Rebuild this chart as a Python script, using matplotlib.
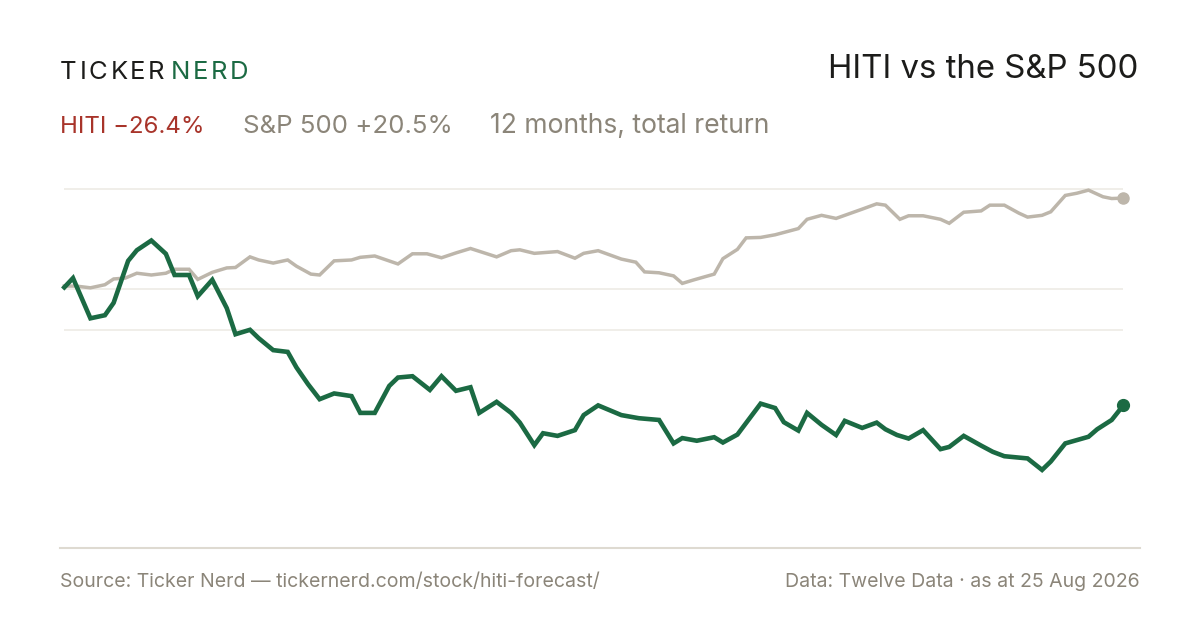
import matplotlib
matplotlib.use('Agg')
import numpy as np
import matplotlib.pyplot as plt
from matplotlib.lines import Line2D

# days since start (12 months) and total return in %
hiti_days = [0, 3, 9, 14, 17, 22, 25, 30, 35, 38, 43, 46, 51, 56, 59, 64, 67, 72, 77, 80,
             84, 88, 93, 99, 102, 107, 112, 115, 120, 126, 130, 135, 140, 143, 149, 154, 157,
             162, 165, 170, 176, 179, 184, 192, 198, 205, 210, 213, 218, 224, 227, 232, 240,
             245, 248, 253, 256, 261, 266, 269, 275, 280, 283, 287, 291, 296, 302, 305, 310,
             316, 320, 324, 332, 337, 340, 345, 353, 356, 361, 365]
hiti_ret = [0.3, 2.4, -6.7, -6.0, -3.2, 6.3, 8.7, 10.9, 7.9, 3.1, 3.1, -1.7, 2.0, -4.4, -10.3,
            -9.3, -11.2, -13.9, -14.3, -17.8, -21.6, -25.0, -23.7, -24.3, -28.1, -28.1, -22.0,
            -20.1, -19.8, -22.9, -19.8, -23.1, -22.3, -28.1, -25.6, -28.1, -30.3, -35.4, -32.7,
            -33.3, -32.0, -28.6, -26.4, -28.6, -29.3, -29.7, -35.0, -33.8, -34.4, -33.6, -34.8,
            -33.0, -26.0, -27.0, -30.2, -32.1, -28.1, -30.8, -33.1, -29.9, -31.5, -30.3, -31.8,
            -33.1, -33.9, -32.0, -36.3, -35.8, -33.3, -35.5, -36.9, -37.9, -38.4, -41.0, -39.1,
            -35.0, -33.5, -31.8, -29.7, -26.4]

spx_days = [0, 4, 9, 14, 17, 21, 25, 30, 35, 38, 43, 46, 51, 56, 59, 64, 67, 72, 77, 80, 85,
            88, 93, 99, 102, 107, 115, 120, 125, 130, 135, 140, 149, 154, 157, 162, 170, 176,
            179, 184, 192, 197, 200, 205, 210, 213, 217, 224, 227, 232, 235, 240, 245, 253,
            256, 261, 266, 275, 280, 283, 288, 291, 296, 302, 305, 310, 316, 319, 324, 329,
            332, 337, 340, 345, 349, 353, 358, 361, 365]
spx_ret = [0.6, 0.6, 0.2, 0.9, 2.2, 2.4, 3.5, 3.1, 3.5, 4.4, 4.4, 2.1, 3.7, 4.7, 4.8, 7.2, 6.5,
           5.8, 6.5, 5.1, 3.3, 3.1, 6.3, 6.5, 7.1, 7.4, 5.6, 7.9, 7.9, 7.0, 8.1, 9.1, 7.2, 8.6,
           8.8, 8.0, 8.4, 6.9, 8.0, 8.6, 6.7, 6.0, 3.8, 3.6, 2.9, 1.2, 2.0, 3.3, 6.8, 8.9, 11.5,
           11.6, 12.2, 13.6, 15.7, 16.6, 15.9, 18.0, 19.2, 18.9, 15.7, 16.5, 16.5, 15.7, 14.8,
           17.3, 17.6, 18.9, 18.9, 17.1, 16.2, 16.6, 17.4, 21.1, 21.6, 22.3, 20.8, 20.4, 20.5]

grid_levels = [22.5, 0.0, -9.3]

title = 'HITI vs the S&P 500'
hiti_label = 'HITI \u221226.4%'
spx_label = 'S&P 500 +20.5%'
period_label = '12 months, total return'
source_text = 'Source: Ticker Nerd \u2014 tickernerd.com/stock/hiti-forecast/'
data_text = 'Data: Twelve Data \u00b7 as at 25 Aug 2026'

GREEN = '#1b6a43'
RED = '#a8342a'
GREY_LINE = '#bdb6ab'
GREY_TEXT = '#8b8579'
INK = '#1c1c1a'

plt.rcParams['font.family'] = ['Inter', 'DejaVu Sans']

W, H = 1200, 630
fig = plt.figure(figsize=(12, 6.3), dpi=100)
fig.patch.set_facecolor('white')
renderer = fig.canvas.get_renderer()


def px(x, y):
    return x / W, 1 - y / H


def fit_text(x, y, s, width, ha='left', **kw):
    t = fig.text(*px(x, y), s, ha=ha, va='baseline', fontsize=20, **kw)
    w = t.get_window_extent(renderer).width
    t.set_fontsize(20 * width / w)
    return t


# plot area
top_px, bot_px = 170, 500
zero_px, scale = 288.7, 4.42
x0, x1 = 64.3, 1123.3
ax = fig.add_axes([x0 / W, 1 - bot_px / H, (x1 - x0) / W, (bot_px - top_px) / H])
ax.set_xlim(0, 365)
ax.set_ylim((zero_px - bot_px) / scale, (zero_px - top_px) / scale)
ax.axis('off')

for g in grid_levels:
    ax.axhline(g, color='#eeebe5', lw=1.2, zorder=1)

ax.plot(spx_days, spx_ret, color=GREY_LINE, lw=2.5, solid_joinstyle='miter', zorder=2, clip_on=False)
ax.plot(hiti_days, hiti_ret, color=GREEN, lw=3.3, solid_joinstyle='miter', zorder=3, clip_on=False)
ax.plot(spx_days[-1], spx_ret[-1], 'o', color=GREY_LINE, ms=8, zorder=4, clip_on=False)
ax.plot(hiti_days[-1], hiti_ret[-1], 'o', color=GREEN, ms=8.5, zorder=5, clip_on=False)

# bottom rule
fig.add_artist(Line2D([60 / W, 1140 / W], [1 - 548 / H] * 2, color='#dedad1', lw=1.5))

# logo with letter spacing
logo_size = 18.5
xpos = 60
for word, col in (('TICKER', INK), ('NERD', GREEN)):
    for ch in word:
        t = fig.text(*px(xpos, 79), ch, color=col, fontsize=logo_size, va='baseline', ha='left')
        xpos += t.get_window_extent(renderer).width + 2.7
    xpos += 3

# title
fit_text(1138, 78, title, 312, ha='right', color=INK)

# subtitle row
fit_text(60, 133, hiti_label, 145, color=RED)
fit_text(243, 133, spx_label, 210, color=GREY_TEXT)
fit_text(490, 133, period_label, 280, color=GREY_TEXT)

# footer
foot = fit_text(60, 587, source_text, 540, color=GREY_TEXT)
fig.text(*px(1140, 587), data_text, color=GREY_TEXT, fontsize=foot.get_fontsize(),
         ha='right', va='baseline')

fig.savefig('out.png', dpi=100, facecolor='white')
